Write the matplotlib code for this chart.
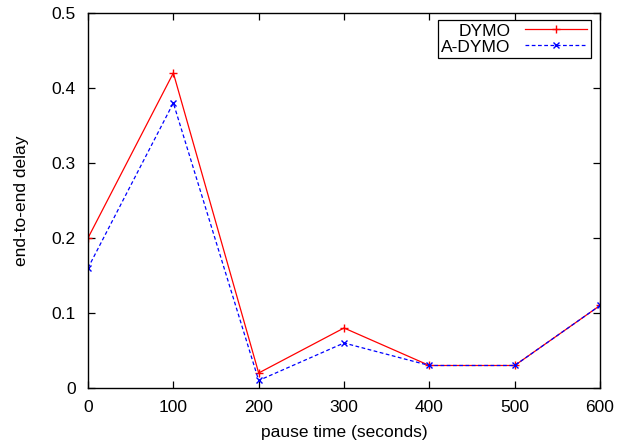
import matplotlib
matplotlib.use("Agg")
import matplotlib.pyplot as plt

plt.rcParams['font.family'] = ['Liberation Sans', 'DejaVu Sans']
plt.rcParams['font.size'] = 12.5

pause = [0, 100, 200, 300, 400, 500, 600]
dymo = [0.20, 0.42, 0.02, 0.08, 0.03, 0.03, 0.11]
a_dymo = [0.16, 0.38, 0.01, 0.06, 0.03, 0.03, 0.11]

fig = plt.figure(figsize=(6.18, 4.47), dpi=100)
ax = fig.add_axes([0.1424, 0.132, 0.8285, 0.839])

ax.plot(pause, dymo, color='red', linewidth=0.9, marker='+', markersize=6,
        markeredgewidth=1.0, label='DYMO')
ax.plot(pause, a_dymo, color='blue', linewidth=0.9, linestyle=(0, (3, 2)),
        marker='x', markersize=5, markeredgewidth=1.0, label='A-DYMO')

ax.set_xlim(0, 600)
ax.set_ylim(0, 0.5)
ax.set_xticks([0, 100, 200, 300, 400, 500, 600])
ax.set_yticks([0, 0.1, 0.2, 0.3, 0.4, 0.5])
ax.set_yticklabels(['0', '0.1', '0.2', '0.3', '0.4', '0.5'])
ax.tick_params(direction='in', top=True, right=True, length=5, width=0.9, pad=9)
for s in ax.spines.values():
    s.set_linewidth(1.0)

ax.set_xlabel("pause time (seconds)", labelpad=7)
ax.set_ylabel("end-to-end delay", labelpad=16)

leg = ax.legend(loc='upper right', markerfirst=False, fancybox=False,
                edgecolor='black', framealpha=1, borderpad=0.2,
                handlelength=3.6, labelspacing=0.05, borderaxespad=0.4,
                bbox_to_anchor=(0.995, 1.0))
leg.get_frame().set_linewidth(0.9)
for t in leg.get_texts():
    t.set_ha('right')

fig.savefig("out.png", dpi=100)
